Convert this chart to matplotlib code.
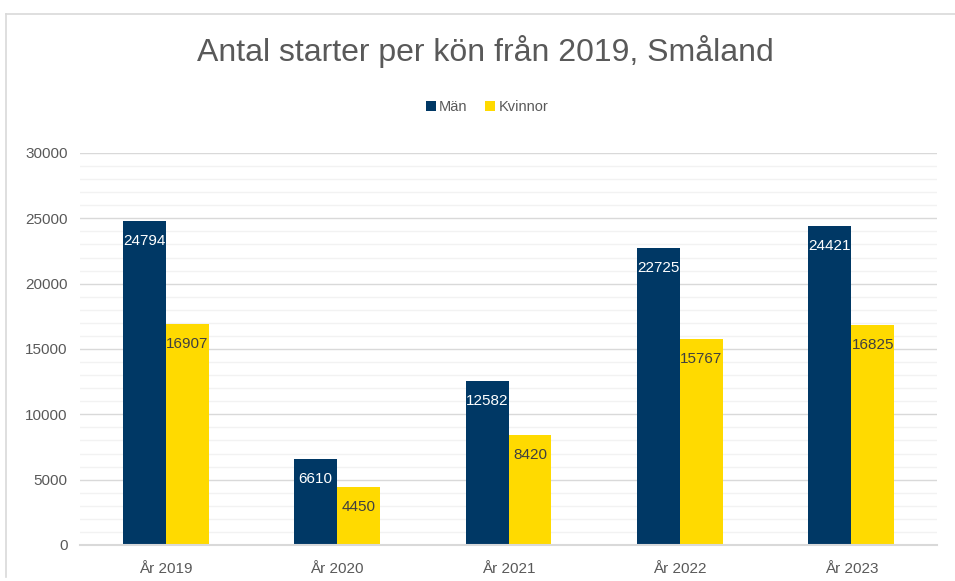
import numpy as np
import matplotlib.pyplot as plt
from matplotlib.lines import Line2D
from matplotlib.ticker import MultipleLocator

plt.rcParams['font.family'] = ['Liberation Sans', 'DejaVu Sans']

years = ['År 2019', 'År 2020', 'År 2021', 'År 2022', 'År 2023']
man = [24794, 6610, 12582, 22725, 24421]
kvinnor = [16907, 4450, 8420, 15767, 16825]

navy = '#003865'
yellow = '#FFDA00'
grey = '#595959'

fig = plt.figure(figsize=(9.55, 5.81), dpi=100)
ax = fig.add_axes([80/955, 1-545/581, (937-80)/955, (545-153)/581])

x = np.arange(len(years))
w = 0.25
b1 = ax.bar(x - w/2, man, w, color=navy, label='Män', zorder=3)
b2 = ax.bar(x + w/2, kvinnor, w, color=yellow, label='Kvinnor', zorder=3)

# value labels just inside the top of each bar
for bars, vals, col in [(b1, man, 'white'), (b2, kvinnor, '#404040')]:
    for r, v in zip(bars, vals):
        ax.annotate(str(v), (r.get_x() + r.get_width()/2, v), xytext=(0, -20),
                    textcoords='offset pixels', ha='center', va='center',
                    fontsize=11, color=col, zorder=4)

ax.set_xlim(-0.5, 4.5)
ax.set_ylim(0, 30000)
ax.yaxis.set_major_locator(MultipleLocator(5000))
ax.yaxis.set_minor_locator(MultipleLocator(1000))
ax.grid(which='major', axis='y', color='#D9D9D9', lw=1, zorder=0)
ax.grid(which='minor', axis='y', color='#F2F2F2', lw=1, zorder=0)
ax.set_xticks(x)
ax.set_xticklabels(years)
ax.tick_params(axis='both', which='both', length=0, labelsize=11, labelcolor=grey)
ax.tick_params(axis='x', pad=12)
ax.tick_params(axis='y', pad=9)
for s in ['top', 'right', 'left']:
    ax.spines[s].set_visible(False)
ax.spines['bottom'].set_color('#D9D9D9')
ax.spines['bottom'].set_linewidth(1.5)
ax.spines['bottom'].set_zorder(5)

fig.text(485/955, 1-51/581, 'Antal starter per kön från 2019, Småland',
         ha='center', va='center', fontsize=23, color=grey)

fig.legend(loc='center', bbox_to_anchor=(487/955, 1-107/581), ncol=2, frameon=False,
           fontsize=10.5, labelcolor=grey, handlelength=0.7, handleheight=0.7,
           handletextpad=0.2, columnspacing=1.2)

# chart frame: only top and left edges are visible in the crop
fig.add_artist(Line2D([6/955, 1.0], [1-13.5/581, 1-13.5/581], transform=fig.transFigure,
                      color='#D9D9D9', lw=1.2))
fig.add_artist(Line2D([6/955, 6/955], [1-13.5/581, 1-577/581], transform=fig.transFigure,
                      color='#D9D9D9', lw=1.2))

fig.savefig('out.png', dpi=100)
